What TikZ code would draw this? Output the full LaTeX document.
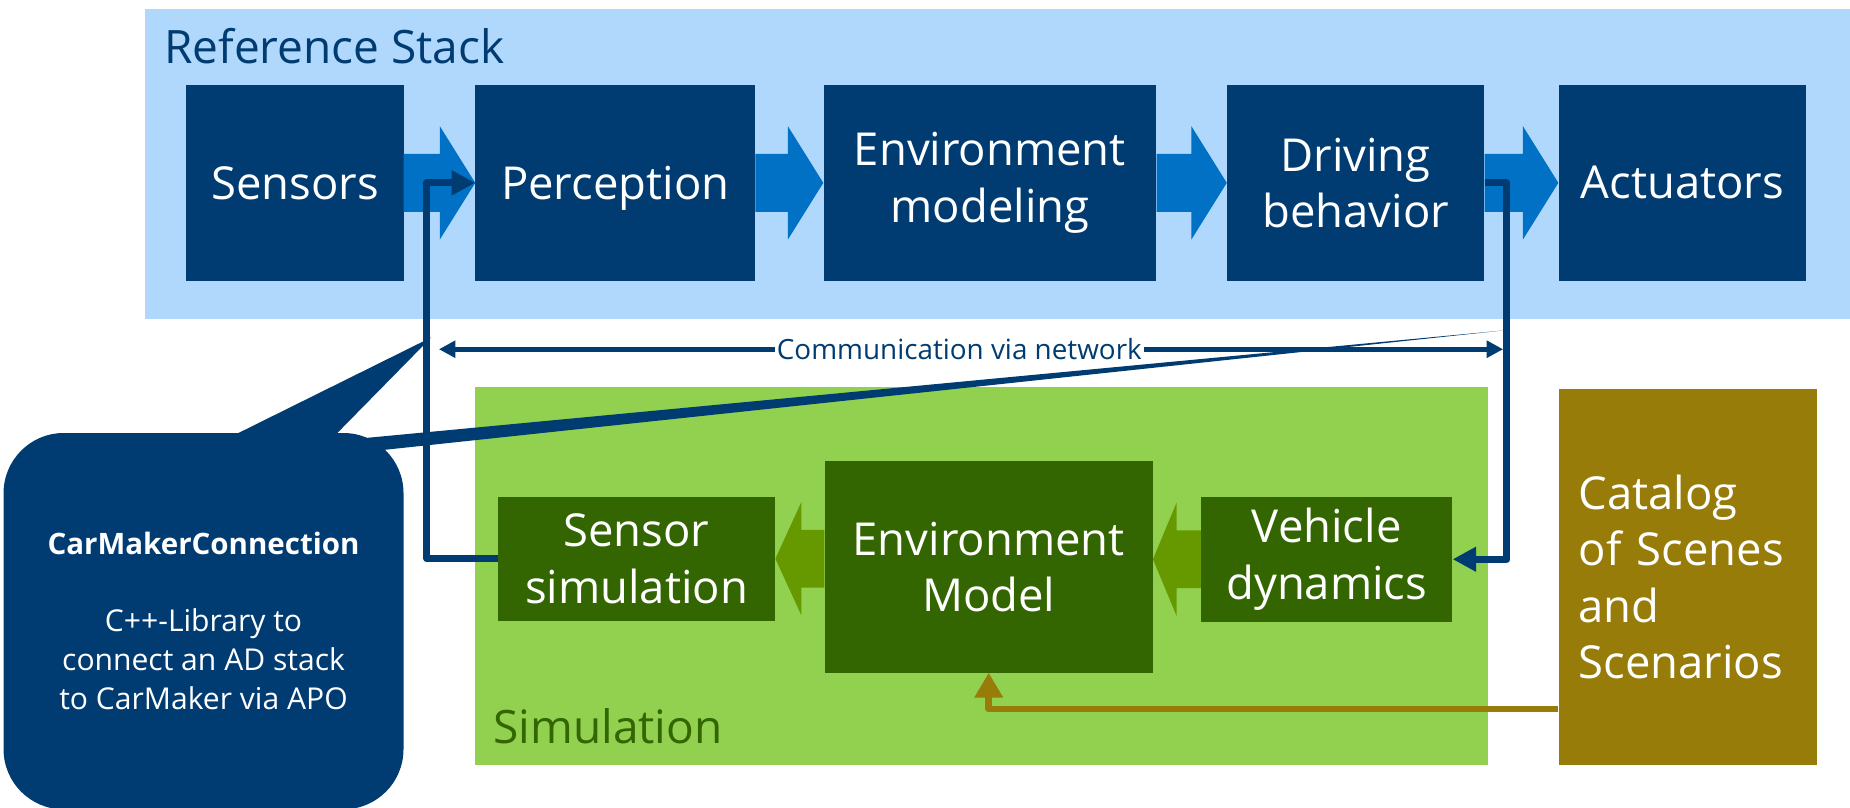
\documentclass[tikz,border=0pt]{standalone}
\usepackage{fontspec}
\setmainfont{Open Sans}
\usetikzlibrary{arrows.meta,calc}
\definecolor{dkblue}{HTML}{003C71}
\definecolor{ltblue}{HTML}{AFD8FC}
\definecolor{arrblue}{HTML}{0071C5}
\definecolor{simgreen}{HTML}{92D050}
\definecolor{dkgreen}{HTML}{336600}
\definecolor{arrgreen}{HTML}{669900}
\definecolor{catbrown}{HTML}{977C0A}
\newcommand{\bxfont}{\fontsize{38.5}{48}\selectfont}
\newcommand{\ttlfont}{\fontsize{39}{48}\selectfont}
\newcommand{\commfont}{\fontsize{23.6}{28}\selectfont}
\newcommand{\cmcfont}{\fontsize{25.5}{33}\selectfont}
\newcommand{\flowarrow}[4]{%
  \coordinate (hb) at ($(#2)!#4!(#1)$);
  \fill[#3] ($(#1)+(0,-24.5)$) -- ($(hb)+(0,-24.5)$) -- ($(hb)+(0,-48)$) -- (#2)
    -- ($(hb)+(0,48)$) -- ($(hb)+(0,24.5)$) -- ($(#1)+(0,24.5)$) -- cycle;}
\begin{document}
\begin{tikzpicture}[x=1pt,y=-1pt,
  bx/.style={fill=dkblue,text=white,inner sep=0pt,align=center,font=\bxfont,minimum height=166pt},
  gbx/.style={fill=dkgreen,text=white,inner sep=0pt,align=center,font=\bxfont},
  conn/.style={draw=dkblue,line width=6pt,line join=round},
  brline/.style={draw=catbrown,line width=5.5pt,line join=round},
  ttl/.style={anchor=base west,font=\ttlfont,inner sep=0pt}]
\useasboundingbox (0,0) rectangle (1568,684);
% Reference stack
\node[fill=ltblue,inner sep=0pt,minimum width=1445pt,minimum height=262pt] (refbg) at (845.5,139) {};
\node[ttl,text=dkblue] (reftitle) at (139,54) {Reference Stack};
\node[bx,minimum width=184pt] (sensors) at (250,155) {Sensors};
\node[bx,minimum width=237pt,text depth=0pt] (perception) at (521.5,155) {Perception};
\node[bx,minimum width=282pt] (envmod) at (839,155) {Environment\\modeling};
\node[bx,minimum width=218pt] (driving) at (1149,155) {Driving\\behavior};
\node[bx,minimum width=210pt] (actuators) at (1426,155) {Actuators};
\flowarrow{sensors.east}{perception.west}{arrblue}{30pt}
\flowarrow{perception.east}{envmod.west}{arrblue}{30pt}
\flowarrow{envmod.east}{driving.west}{arrblue}{30pt}
\flowarrow{driving.east}{actuators.west}{arrblue}{30pt}
% Simulation
\node[fill=simgreen,inner sep=0pt,minimum width=858pt,minimum height=320pt] (simbg) at (832,488) {};
\node[ttl,text=dkgreen] (simtitle) at (418,630) {Simulation};
\node[gbx,minimum width=235pt,minimum height=105pt] (sensim) at (539.5,473.5) {Sensor\\simulation};
\node[gbx,minimum width=278pt,minimum height=179pt] (envmodel) at (838,480.5) {Environment\\Model};
\node[gbx,minimum width=213pt,minimum height=106pt] (vehdyn) at (1124.5,474) {Vehicle\\dynamics};
\coordinate (g1t) at (envmodel.west |- sensim.east);
\flowarrow{g1t}{sensim.east}{arrgreen}{22pt}
\coordinate (g2h) at (envmodel.east |- vehdyn.west);
\flowarrow{vehdyn.west}{g2h}{arrgreen}{20pt}
% Catalog
\node[fill=catbrown,text=white,font=\bxfont,align=left,text width=185pt,inner xsep=17pt,inner ysep=0pt,minimum height=318pt] (catalog) at (1430.5,489) {Catalog\\of Scenes\\and\\Scenarios};
\coordinate (c601) at (0,601);
\coordinate (catl) at (catalog.west |- c601);
\draw[brline,-{Triangle[length=21pt,width=23pt]}] (catl) -| (envmodel.south);
% Connections
\draw[conn,-{Triangle[length=20pt,width=20pt]}] (sensim.west) -- ++(-60,0) |- (perception.west);
\draw[conn,-{Triangle[length=20pt,width=20pt]}] (driving.east) -- ++(19,0) |- (vehdyn.east);
\coordinate (cl) at (372,296);
\coordinate (cr) at (1274,296);
\draw[dkblue,line width=4pt,{Triangle[length=14pt,width=14pt]}-{Triangle[length=14pt,width=14pt]}] (cl) -- node[pos=0.489,fill=white,text=dkblue,font=\commfont,inner xsep=2pt,inner ysep=0pt] (commlabel) {Communication via network} (cr);
% Callout
\node[fill=dkblue,rounded corners=51pt,minimum width=339pt,minimum height=319pt,text=white,align=center,inner sep=0pt,font=\cmcfont] (cmc) at (172.5,526.5)
  {{\fontsize{25}{33}\selectfont\bfseries CarMakerConnection}\\[32pt]
   C++-Library to\\connect an AD stack\\to CarMaker via APO};
\fill[dkblue] (192,372) -- (365.5,286) -- (281,372) -- cycle;
\fill[dkblue] (290,373.1) -- (1275,280) -- (290,385.1) -- cycle;
\end{tikzpicture}
\end{document}
